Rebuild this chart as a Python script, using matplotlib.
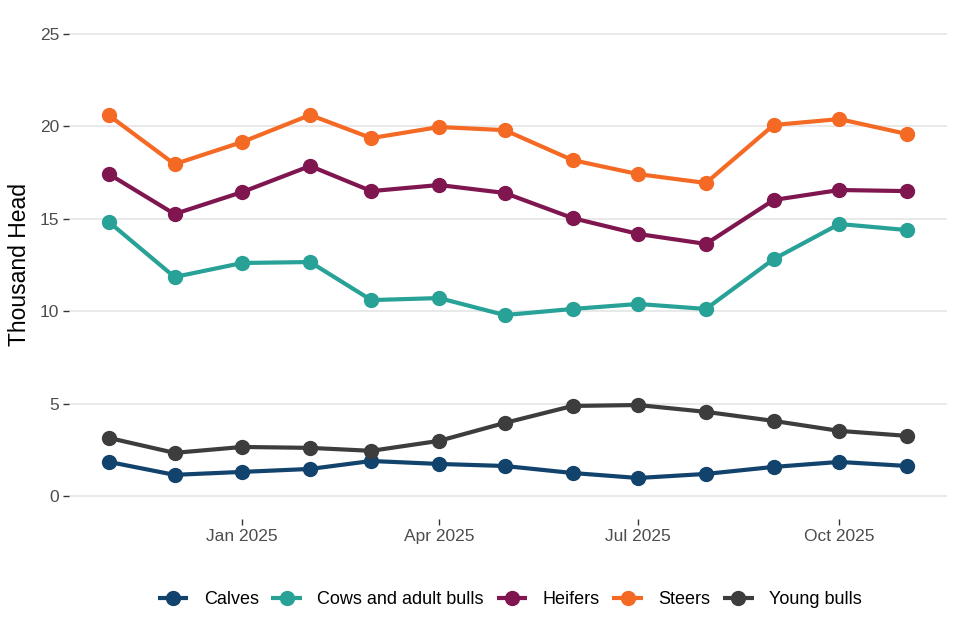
import matplotlib
matplotlib.use('Agg')
import matplotlib.pyplot as plt
import matplotlib.dates as mdates
import numpy as np
import pandas as pd

plt.rcParams['font.family'] = ['Liberation Sans', 'DejaVu Sans']

months = pd.date_range('2024-11-01', '2025-11-01', freq='MS')

calves = [1.84, 1.14, 1.30, 1.46, 1.89, 1.73, 1.62, 1.24, 0.97, 1.19, 1.57, 1.84, 1.62]
cows = [14.83, 11.85, 12.61, 12.66, 10.60, 10.71, 9.79, 10.12, 10.39, 10.12, 12.82, 14.72, 14.39]
heifers = [17.42, 15.26, 16.45, 17.86, 16.50, 16.83, 16.40, 15.04, 14.18, 13.64, 16.02, 16.56, 16.50]
steers = [20.60, 17.96, 19.16, 20.62, 19.37, 19.97, 19.80, 18.18, 17.42, 16.94, 20.08, 20.40, 19.59]
young_bulls = [3.14, 2.33, 2.65, 2.60, 2.44, 2.98, 3.95, 4.87, 4.92, 4.55, 4.06, 3.52, 3.25]

series = [
    ('Calves', calves, '#12436D'),
    ('Cows and adult bulls', cows, '#28A197'),
    ('Heifers', heifers, '#801650'),
    ('Steers', steers, '#F46A25'),
    ('Young bulls', young_bulls, '#3D3D3D'),
]

fig = plt.figure(figsize=(9.6, 6.4), dpi=100)
ax = fig.add_axes([69 / 960, 1 - 519 / 640, (947 - 69) / 960, (519 - 11) / 640])

for name, vals, col in series:
    ax.plot(months, vals, color=col, lw=3, marker='o', ms=10, label=name,
            solid_capstyle='butt')

pad = pd.Timedelta(days=18.25)
ax.set_xlim(months[0] - pad, months[-1] + pad)
ax.set_ylim(-1.25, 26.25)
ax.set_yticks([0, 5, 10, 15, 20, 25])
ax.set_xticks(pd.to_datetime(['2025-01-01', '2025-04-01', '2025-07-01', '2025-10-01']))
ax.xaxis.set_major_formatter(mdates.DateFormatter('%b %Y'))

ax.grid(axis='y', color='#E5E5E5', lw=1.2)
ax.set_axisbelow(True)
for s in ax.spines.values():
    s.set_visible(False)
ax.tick_params(axis='both', colors='#333333', labelcolor='#4D4D4D', labelsize=12.5,
               length=4, width=1)
ax.tick_params(axis='x', pad=3)
ax.tick_params(axis='y', pad=3)

ax.set_ylabel('Thousand Head', fontsize=16.5, color='black')
ax.yaxis.set_label_coords(-38 / 878, 0.5)

fig.legend(loc='center', bbox_to_anchor=(0.531, 1 - 600 / 640), ncol=5, frameon=False,
           fontsize=13, handlelength=1.7, columnspacing=0.7, handletextpad=0.85)

fig.savefig('out.png', dpi=100)
